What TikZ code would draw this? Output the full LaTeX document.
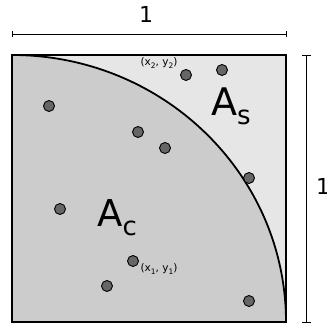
\documentclass[tikz,border=0pt]{standalone}
\usepackage{fontspec}
\setmainfont{DejaVu Sans}
\definecolor{outerfill}{HTML}{E6E6E6}
\definecolor{innerfill}{HTML}{CCCCCC}
\definecolor{dotfill}{HTML}{666666}
\tikzset{
  pt/.style={circle, draw=black, line width=0.9pt, fill=dotfill, minimum size=11pt, inner sep=0pt},
  small/.style={font=\fontsize{10.5}{10.5}\selectfont, inner sep=0pt},
  dimline/.style={line width=0.9pt},
}
\begin{document}
\begin{tikzpicture}[x=1pt,y=1pt]
\useasboundingbox (0,0) rectangle (327,326);
% square and quarter disc
\fill[outerfill] (12,4) rectangle (286,271);
\fill[innerfill] (12,4) -- (12,271) arc[start angle=90, end angle=0, x radius=274, y radius=267] -- cycle;
\draw[line width=1.8pt] (12,271) arc[start angle=90, end angle=0, x radius=274, y radius=267];
\draw[line width=2pt] (12,4) rectangle (286,271);
% dimension lines
\coordinate (tl) at (12,292);
\coordinate (tr) at (286,292);
\draw[dimline] (tl) -- (tr);
\draw[dimline] (12,289) -- (12,295);
\draw[dimline] (286,289) -- (286,295);
\node[font=\fontsize{22}{22}\selectfont, anchor=base] (one1) at (146,303) {1};
\coordinate (rt) at (306,271);
\coordinate (rb) at (306,4);
\draw[dimline] (rt) -- (rb);
\draw[dimline] (302,271) -- (311,271);
\draw[dimline] (302,4) -- (311,4);
\node[font=\fontsize{22}{22}\selectfont, anchor=base west, inner sep=0pt] (one2) at (316,131) {1};
% points
\node[pt] (p1) at (49,220) {};
\node[pt] (p2) at (186,251) {};
\node[pt] (p3) at (222,256) {};
\node[pt] (p4) at (138,194) {};
\node[pt] (p5) at (165,178) {};
\node[pt] (p6) at (249,148) {};
\node[pt] (p7) at (60,117) {};
\node[pt] (p8) at (133,65) {};
\node[pt] (p9) at (107,40) {};
\node[pt] (p10) at (249,25) {};
% labels
\node[small] (l2) at (159,263) {(x\raisebox{-0.25em}{\fontsize{7.5}{7.5}\selectfont 2}, y\raisebox{-0.25em}{\fontsize{7.5}{7.5}\selectfont 2})};
\node[small] (l1) at (159,57) {(x\raisebox{-0.25em}{\fontsize{7.5}{7.5}\selectfont 1}, y\raisebox{-0.25em}{\fontsize{7.5}{7.5}\selectfont 1})};
\node[anchor=base west, inner sep=0pt, font=\fontsize{38}{38}\selectfont] (As) at (211,210) {A\raisebox{-0.22em}{\fontsize{26}{26}\selectfont s}};
\node[anchor=base west, inner sep=0pt, font=\fontsize{37}{37}\selectfont] (Ac) at (97,99) {A\raisebox{-0.22em}{\fontsize{26}{26}\selectfont c}};
\end{tikzpicture}
\end{document}
